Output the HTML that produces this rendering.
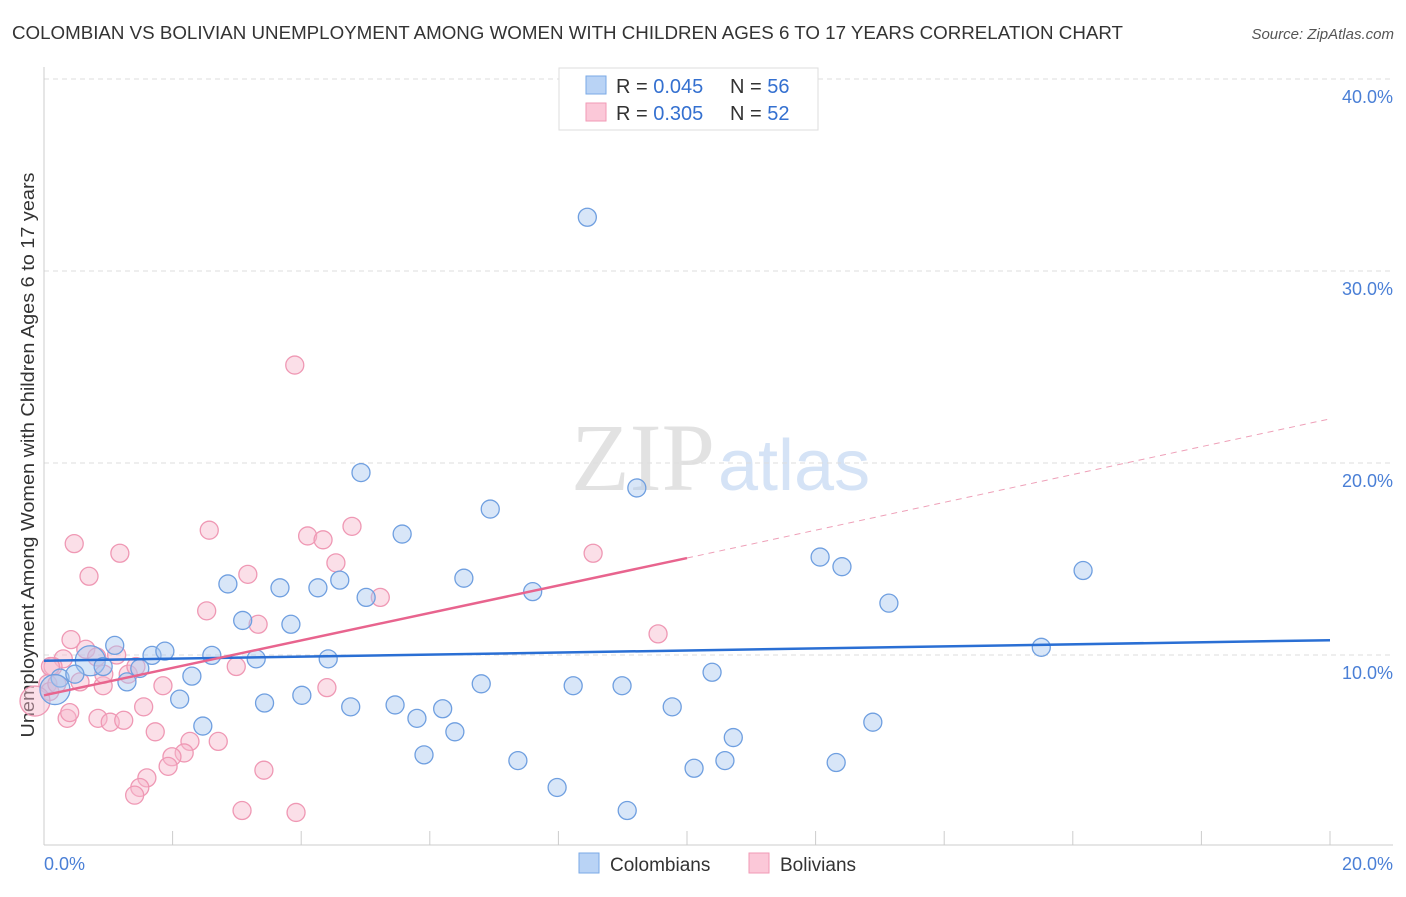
<!DOCTYPE html>
<html><head><meta charset="utf-8"><style>
body{margin:0;background:#fff;font-family:"Liberation Sans",sans-serif}
</style></head><body>
<svg id="c" width="1406" height="892" xmlns="http://www.w3.org/2000/svg">
<text x="12" y="39" font-size="18" fill="#333" textLength="1111" lengthAdjust="spacingAndGlyphs">COLOMBIAN VS BOLIVIAN UNEMPLOYMENT AMONG WOMEN WITH CHILDREN AGES 6 TO 17 YEARS CORRELATION CHART</text>
<text x="1394" y="39" font-size="15" fill="#555" font-style="italic" text-anchor="end">Source: ZipAtlas.com</text>
<text x="715" y="490" font-size="96" fill="#e2e2e2" font-family="Liberation Serif,serif" text-anchor="end">ZIP</text>
<text x="718" y="490" font-size="72" fill="#d5e3f6">atlas</text>
<text transform="translate(34,455) rotate(-90)" font-size="18" fill="#333" text-anchor="middle" textLength="565" lengthAdjust="spacingAndGlyphs">Unemployment Among Women with Children Ages 6 to 17 years</text>
<g id="grid"></g><g id="pts"></g><g id="lines"></g>
<g>
<rect x="559" y="68" width="259" height="62" fill="#fff" stroke="#ddd"/>
<rect x="586" y="76" width="20" height="18" fill="#b9d3f5" stroke="#7aa9e6"/>
<rect x="586" y="103" width="20" height="18" fill="#fbc8d8" stroke="#f19ab6"/>
<text x="616" y="93" font-size="20" fill="#333">R = <tspan fill="#3470d0">0.045</tspan></text>
<text x="730" y="93" font-size="20" fill="#333">N = <tspan fill="#3470d0">56</tspan></text>
<text x="616" y="120" font-size="20" fill="#333">R = <tspan fill="#3470d0">0.305</tspan></text>
<text x="730" y="120" font-size="20" fill="#333">N = <tspan fill="#3470d0">52</tspan></text>
</g>
<g>
<rect x="579" y="853" width="20" height="20" fill="#b9d3f5" stroke="#7aa9e6"/>
<text x="610" y="871" font-size="19" fill="#333">Colombians</text>
<rect x="749" y="853" width="20" height="20" fill="#fbc8d8" stroke="#f19ab6"/>
<text x="780" y="871" font-size="19" fill="#333">Bolivians</text>
</g>
<text x="44" y="870" font-size="18" fill="#4a7fd6">0.0%</text>
<text x="1393" y="870" font-size="18" fill="#4a7fd6" text-anchor="end">20.0%</text>
</svg>
<script>
const yTicks=[10,20,30,40];
const blueX=[8.45,4.93,9.22,6.94,5.57,2.86,3.67,4.26,4.6,6.53,5.01,7.6,12.07,12.41,16.16,13.14,3.09,3.84,1.1,1.68,1.88,2.61,3.3,4.42,0.72,0.92,1.49,2.3,0.25,0.48,1.29,0.17,2.11,3.43,4.01,4.77,5.46,6.2,5.8,6.8,8.23,8.99,9.77,10.39,15.51,12.89,2.47,6.39,5.91,7.37,10.72,10.59,10.11,12.32,7.98,9.07];
const blueY=[32.8,19.5,18.7,17.6,16.3,13.7,13.5,13.5,13.9,14.0,13.0,13.3,15.1,14.6,14.4,12.7,11.8,11.6,10.5,9.98,10.2,9.98,9.8,9.8,9.7,9.4,9.3,8.9,8.8,9.0,8.6,8.2,7.7,7.5,7.9,7.3,7.4,7.2,6.7,8.5,8.4,8.4,7.3,9.1,10.4,6.5,6.3,6.0,4.8,4.5,5.7,4.5,4.1,4.4,3.1,1.9];
const pinkX=[3.9,0.47,1.18,0.7,2.57,4.1,4.34,4.79,4.54,3.17,5.23,2.53,3.33,9.55,8.54,0.42,0.65,0.3,0.82,1.13,0.14,0.06,0.09,-0.14,0.56,0.92,0.93,1.31,1.85,1.43,2.99,4.4,1.55,0.36,0.84,1.03,1.24,1.73,2.71,2.27,2.18,1.99,1.93,1.6,1.49,1.41,3.42,3.08,3.92,0.2,0.1,0.4];
const pinkY=[25.1,15.8,15.3,14.1,16.5,16.2,16.0,16.7,14.8,14.2,13.0,12.3,11.6,11.1,15.3,10.8,10.3,9.8,9.9,10.0,9.4,8.5,8.1,7.6,8.6,8.4,9.0,9.0,8.4,9.4,9.4,8.3,7.3,6.7,6.7,6.5,6.6,6.0,5.5,5.5,4.9,4.7,4.2,3.6,3.1,2.7,4.0,1.9,1.8,8.5,9.4,7.0];
const blueLine=[0,9.7,20,10.77];
const pinkLine=[0,7.9,10,15.05,20,22.3];
const X=v=>44+v/20*1286, Y=v=>847-v*19.2;
const NS="http://www.w3.org/2000/svg";
function mk(t,a,p){const e=document.createElementNS(NS,t);for(const k in a)e.setAttribute(k,a[k]);p.appendChild(e);return e;}
const g=document.getElementById('grid');
yTicks.forEach(t=>{
 const l=mk('line',{x1:44,x2:1393,y1:Y(t),y2:Y(t),stroke:'#ddd','stroke-dasharray':'5,4'},g);
 
 
 const tx=mk('text',{x:1393,y:Y(t)+24,'font-size':18,fill:'#4a7fd6','text-anchor':'end'},g);
 tx.textContent=t.toFixed(1)+'%';
 
 
});
const ax=mk('line',{x1:44,x2:44,y1:67,y2:845,stroke:'#ccc'},g);


const bx=mk('line',{x1:44,x2:1393,y1:845,y2:845,stroke:'#ccc'},g);


for(let i=1;i<=10;i++){const t=mk('line',{x1:X(i*2),x2:X(i*2),y1:831,y2:845,stroke:'#ccc'},g);
 
 }
const p=document.getElementById('pts');
pinkX.forEach((x,i)=>{const c=mk('circle',{cx:X(x),cy:Y(pinkY[i]),r:i==23?15:9,fill:'#f7b8cc',"fill-opacity":0.45,stroke:'#ef98b4','stroke-width':1.3},p);
 
 });
blueX.forEach((x,i)=>{const c=mk('circle',{cx:X(x),cy:Y(blueY[i]),r:(i==24||i==31)?15:9,fill:'#a9c8f0',"fill-opacity":0.45,stroke:'#6f9fe0','stroke-width':1.3},p);
 
 });
const L=document.getElementById('lines');
const b=mk('line',{x1:X(blueLine[0]),y1:Y(blueLine[1]),x2:X(blueLine[2]),y2:Y(blueLine[3]),stroke:'#2a6fd4','stroke-width':2.5},L);


const pk=mk('line',{x1:X(pinkLine[0]),y1:Y(pinkLine[1]),x2:X(pinkLine[2]),y2:Y(pinkLine[3]),stroke:'#e8648e','stroke-width':2.5},L);


const pd=mk('line',{x1:X(pinkLine[2]),y1:Y(pinkLine[3]),x2:X(pinkLine[4]),y2:Y(pinkLine[5]),stroke:'#eea0b8','stroke-width':1,'stroke-dasharray':'6,5'},L);


</script>
</body></html>
